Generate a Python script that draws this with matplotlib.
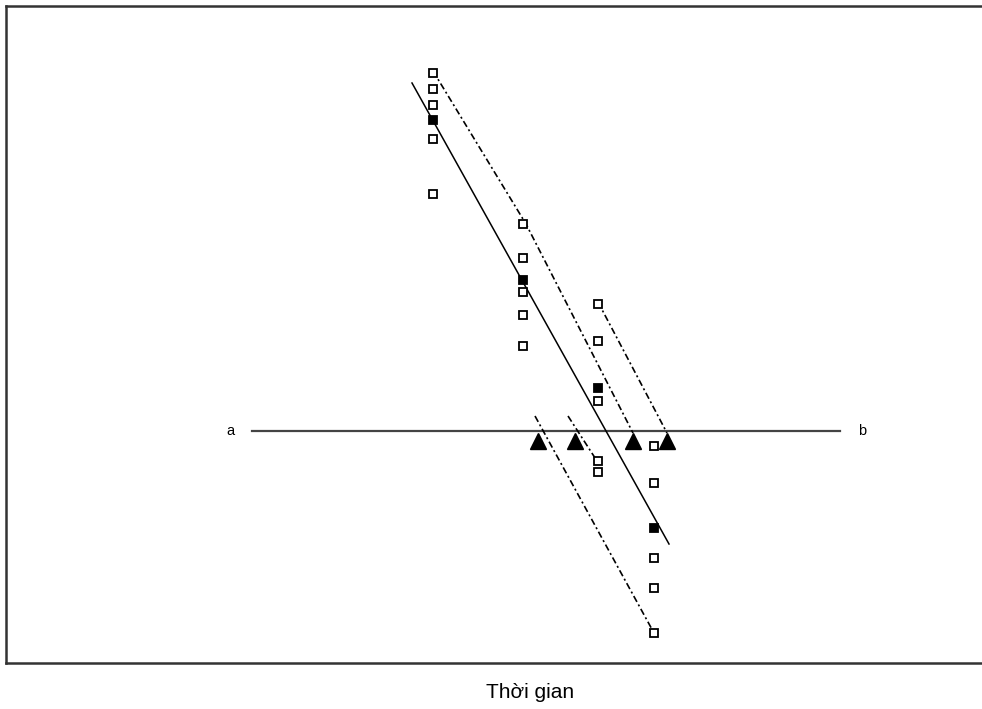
import matplotlib
matplotlib.use('Agg')
import matplotlib.pyplot as plt

plt.rcParams['font.family'] = ['Liberation Sans', 'DejaVu Sans']

# time positions of the four measurement columns
t_cols = [433, 523, 598, 654]

# open squares (each column)
open_y = [
    [590, 574, 558, 524, 469],
    [439, 405, 371, 348, 317],
    [359, 322, 262, 202, 191],
    [217, 180, 105, 75, 30],
]
# filled squares (column means)
filled_y = [543, 383, 275, 135]

# triangles on the a-b line
tri_x = [538, 575, 633, 667]
tri_y = [222, 222, 222, 222]

# reference line a-b
ab_x = [252, 840]
ab_y = [232, 232]

# trend line through the means
trend_x = [412, 669]
trend_y = [580, 119]

# dash-dot lines
dash_lines = [
    ([433, 526, 633], [592, 439, 230]),
    ([598, 667], [361, 230]),
    ([535, 654], [247, 30]),
    ([568, 597], [247, 202]),
]

fig = plt.figure(figsize=(9.82, 7.09), dpi=100)
ax = fig.add_axes([6/982, (709-663)/709, 976/982, (663-6)/709])
ax.set_xlim(6, 982)
ax.set_ylim(0, 657)
ax.set_xticks([])
ax.set_yticks([])
for s in ['left', 'bottom', 'top']:
    ax.spines[s].set_linewidth(1.8)
    ax.spines[s].set_color('#333333')
ax.spines['right'].set_visible(False)

ax.plot(ab_x, ab_y, '-', c='#444444', lw=1.6)
ax.text(ab_x[0] - 22, ab_y[0], 'a', fontsize=10.5, ha='center', va='center')
ax.text(ab_x[1] + 22, ab_y[0], 'b', fontsize=10.5, ha='center', va='center')

ax.plot(trend_x, trend_y, '-', c='black', lw=1.1)
for xs, ys in dash_lines:
    ax.plot(xs, ys, c='black', lw=1.2, linestyle=(0, (4, 1.8, 1.2, 1.8)))

for i, x in enumerate(t_cols):
    ax.plot([x] * len(open_y[i]), open_y[i], 's', ms=5.8, mfc='white',
            mec='black', mew=1.3, ls='none')
ax.plot(t_cols, filled_y, 's', ms=5.8, mfc='black', mec='black', mew=1.3,
        ls='none')
ax.plot(tri_x, tri_y, '^', ms=11, c='black', ls='none')

fig.text(530/982, 1 - 693/709, 'Thời gian', fontsize=15, ha='center', va='center')

fig.savefig('out.png', dpi=100)
